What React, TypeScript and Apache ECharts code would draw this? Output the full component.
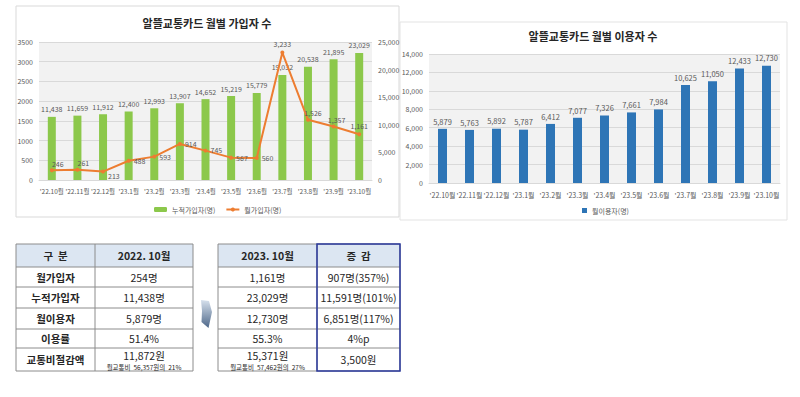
import React, { useEffect, useRef } from "react";
import * as echarts from "echarts";

const categories = ["'22.10월", "'22.11월", "'22.12월", "'23.1월", "'23.2월", "'23.3월", "'23.4월", "'23.5월", "'23.6월", "'23.7월", "'23.8월", "'23.9월", "'23.10월"];
const cumulativeJoiners = [11438, 11659, 11912, 12400, 12993, 13907, 14652, 15219, 15779, 19032, 20538, 21895, 23029];
const monthlyJoiners = [246, 261, 213, 488, 593, 914, 745, 567, 560, 3233, 1526, 1357, 1161];
const monthlyUsers = [5879, 5763, 5892, 5787, 6412, 7077, 7326, 7661, 7984, 10625, 11050, 12433, 12730];

const leftTicks = [0, 500, 1000, 1500, 2000, 2500, 3000, 3500];
const cumTicks = [0, 5000, 10000, 15000, 20000, 25000];
const userTicks = [0, 2000, 4000, 6000, 8000, 10000, 12000, 14000];

const titleLeft = "알뜰교통카드 월별 가입자 수";
const titleRight = "알뜰교통카드 월별 이용자 수";
const seriesNames = ["누적가입자(명)", "월가입자(명)", "월이용자(명)"];

const tableHeader1 = ["구  분", "2022. 10월"];
const tableHeader2 = ["2023. 10월", "증  감"];
const rowLabels = ["월가입자", "누적가입자", "월이용자", "이용률", "교통비절감액"];
const col2022 = ["254명", "11,438명", "5,879명", "51.4%", "11,872원"];
const col2023 = ["1,161명", "23,029명", "12,730명", "55.3%", "15,371원"];
const colChange = ["907명(357%)", "11,591명(101%)", "6,851명(117%)", "4%p", "3,500원"];
const note2022 = "월교통비  56,357원의  21%";
const note2023 = "월교통비  57,462원의  27%";

const FONT = "'Noto Sans CJK KR', 'Noto Sans', sans-serif";
const fmt = (v: number) => v.toLocaleString("en-US");

function buildTable(): any[] {
  const els: any[] = [];
  const rowsY = [244, 267, 287, 308, 329, 348, 371];
  const grid = "#8c8c8c";
  const txt = "#262626";
  const addTable = (x0: number, xm: number, x1: number) => {
    els.push({ type: "rect", shape: { x: x0, y: rowsY[0], width: x1 - x0, height: rowsY[1] - rowsY[0] }, style: { fill: "#dce6f2" }, z: 1 });
    els.push({ type: "rect", shape: { x: x0, y: rowsY[0], width: x1 - x0, height: rowsY[6] - rowsY[0] }, style: { fill: "none", stroke: grid, lineWidth: 1 }, z: 2 });
    for (let i = 1; i < 6; i++) {
      els.push({ type: "line", shape: { x1: x0, y1: rowsY[i], x2: x1, y2: rowsY[i] }, style: { stroke: grid, lineWidth: 1 }, z: 2 });
    }
    els.push({ type: "line", shape: { x1: xm, y1: rowsY[0], x2: xm, y2: rowsY[6] }, style: { stroke: grid, lineWidth: 1 }, z: 2 });
  };
  const t = (x: number, y: number, text: string, size: number, bold: boolean) => {
    els.push({ type: "text", x, y, z: 3, style: { text, fill: txt, font: `${bold ? "bold " : ""}${size}px ${FONT}`, textAlign: "center", textVerticalAlign: "middle" } });
  };
  addTable(16, 95, 193);
  addTable(218, 317, 400);
  els.push({ type: "rect", shape: { x: 317, y: 244, width: 83, height: 127 }, style: { fill: "none", stroke: "#2b3a9e", lineWidth: 1.5 }, z: 4 });
  const mid = (i: number) => (rowsY[i] + rowsY[i + 1]) / 2;
  t(55.5, mid(0), tableHeader1[0], 10.5, true);
  t(144, mid(0), tableHeader1[1], 10.5, true);
  t(267.5, mid(0), tableHeader2[0], 10.5, true);
  t(358.5, mid(0), tableHeader2[1], 10.5, true);
  for (let i = 0; i < 5; i++) {
    const y = mid(i + 1);
    t(55.5, y, rowLabels[i], 10.5, true);
    t(358.5, y, colChange[i], 10.5, false);
    if (i < 4) {
      t(144, y, col2022[i], 10.5, false);
      t(267.5, y, col2023[i], 10.5, false);
    } else {
      t(144, 355, col2022[i], 10.5, false);
      t(267.5, 355, col2023[i], 10.5, false);
      t(144, 366.5, note2022, 6.5, false);
      t(267.5, 366.5, note2023, 6.5, false);
    }
  }
  els.push({
    type: "polygon",
    shape: { points: [[201, 300], [209, 301], [212, 312], [208.5, 328], [201.5, 322], [202, 311]] },
    style: {
      fill: new echarts.graphic.LinearGradient(0, 0, 0, 1, [
        { offset: 0, color: "#d6e0ec" },
        { offset: 1, color: "#4d6789" },
      ]),
    },
    z: 2,
  });
  return els;
}

export default function App() {
  const ref = useRef<HTMLDivElement>(null);
  useEffect(() => {
    if (!ref.current) return;
    const chart = echarts.init(ref.current, undefined, { renderer: "svg" });
    const axisLbl = { fontSize: 7, color: "#595959", fontFamily: FONT };
    const dataLbl = { fontSize: 7, color: "#595959", fontFamily: FONT };
    const linePos = ["top", "top", "right", "right", "right", "right", "right", "right", "right", "top", "top", "top", "top"];
    const lineOffsets = [[6, 2], [6, 2], [0, 4], [0, 0], [0, 0], [0, 0], [0, -1], [0, 0], [0, 0], [0, 0], [5, 2], [3, 2], [0, 0]];
    const option: any = {
      animation: false,
      textStyle: { fontFamily: FONT },
      graphic: [
        { type: "rect", shape: { x: 16, y: 6, width: 383, height: 211 }, style: { fill: "none", stroke: "#d9d9d9", lineWidth: 1 }, z: 0 },
        { type: "rect", shape: { x: 400, y: 22, width: 387, height: 198 }, style: { fill: "none", stroke: "#e3e3e3", lineWidth: 1 }, z: 0 },
        { type: "text", x: 207, y: 23, style: { text: titleLeft, font: `bold 11px ${FONT}`, fill: "#262626", textAlign: "center", textVerticalAlign: "middle" } },
        { type: "text", x: 593, y: 36, style: { text: titleRight, font: `bold 11px ${FONT}`, fill: "#262626", textAlign: "center", textVerticalAlign: "middle" } },
        ...buildTable(),
      ],
      legend: [
        {
          data: [seriesNames[0], seriesNames[1]],
          left: 149, top: 201, itemWidth: 13, itemHeight: 5, itemGap: 10,
          textStyle: { fontSize: 7, color: "#595959", fontFamily: FONT },
        },
        {
          data: [seriesNames[2]],
          left: 577, top: 202, itemWidth: 5, itemHeight: 5, icon: "rect",
          textStyle: { fontSize: 7, color: "#595959", fontFamily: FONT },
        },
      ],
      grid: [
        { left: 39, right: 428, top: 42, bottom: 217, show: true, backgroundColor: "#f2f2f2", borderWidth: 0 },
        { left: 429, right: 20, top: 54, bottom: 214, show: true, backgroundColor: "#f2f2f2", borderWidth: 0 },
      ],
      xAxis: [
        { type: "category", gridIndex: 0, data: categories, axisTick: { show: false }, axisLine: { lineStyle: { color: "#d9d9d9" } }, axisLabel: { ...axisLbl, fontSize: 6.5, margin: 8, interval: 0 } },
        { type: "category", gridIndex: 1, data: categories, axisTick: { show: false }, axisLine: { lineStyle: { color: "#d9d9d9" } }, axisLabel: { ...axisLbl, margin: 8, interval: 0 } },
      ],
      yAxis: [
        { type: "value", gridIndex: 0, min: leftTicks[0], max: leftTicks[leftTicks.length - 1], interval: leftTicks[1] - leftTicks[0], splitLine: { lineStyle: { color: "#d9d9d9" } }, axisLabel: { ...axisLbl, margin: 6, formatter: (v: number) => String(v) } },
        { type: "value", gridIndex: 0, position: "right", min: cumTicks[0], max: cumTicks[cumTicks.length - 1], interval: cumTicks[1] - cumTicks[0], splitLine: { show: false }, axisLabel: { ...axisLbl, margin: 6, formatter: (v: number) => fmt(v) } },
        { type: "value", gridIndex: 1, min: userTicks[0], max: userTicks[userTicks.length - 1], interval: userTicks[1] - userTicks[0], splitLine: { lineStyle: { color: "#d9d9d9" } }, axisLabel: { ...axisLbl, margin: 6, formatter: (v: number) => fmt(v) } },
      ],
      series: [
        {
          name: seriesNames[0], type: "bar", xAxisIndex: 0, yAxisIndex: 1, data: cumulativeJoiners, barWidth: 8,
          itemStyle: { color: "#8cc84b" },
          label: { show: true, position: "top", distance: 4, ...dataLbl, formatter: (p: any) => fmt(p.value) },
        },
        {
          name: seriesNames[1], type: "line", xAxisIndex: 0, yAxisIndex: 0,
          data: monthlyJoiners.map((v, i) => ({ value: v, label: { position: linePos[i], offset: lineOffsets[i] } })),
          symbol: "circle", symbolSize: 4,
          lineStyle: { color: "#ed7d31", width: 2 }, itemStyle: { color: "#ed7d31" },
          label: { show: true, distance: 3, ...dataLbl, formatter: (p: any) => fmt(p.value) },
          z: 5,
        },
        {
          name: seriesNames[2], type: "bar", xAxisIndex: 1, yAxisIndex: 2, data: monthlyUsers, barWidth: 9,
          itemStyle: { color: "#2e75b6" },
          label: { show: true, position: "top", distance: 4, fontSize: 7.5, color: "#595959", fontFamily: FONT, formatter: (p: any) => fmt(p.value) },
        },
      ],
    };
    chart.setOption(option);
    return () => chart.dispose();
  }, []);
  return <div ref={ref} style={{ position: "absolute", left: 0, top: 0, width: 800, height: 397, background: "#fff" }} />;
}
